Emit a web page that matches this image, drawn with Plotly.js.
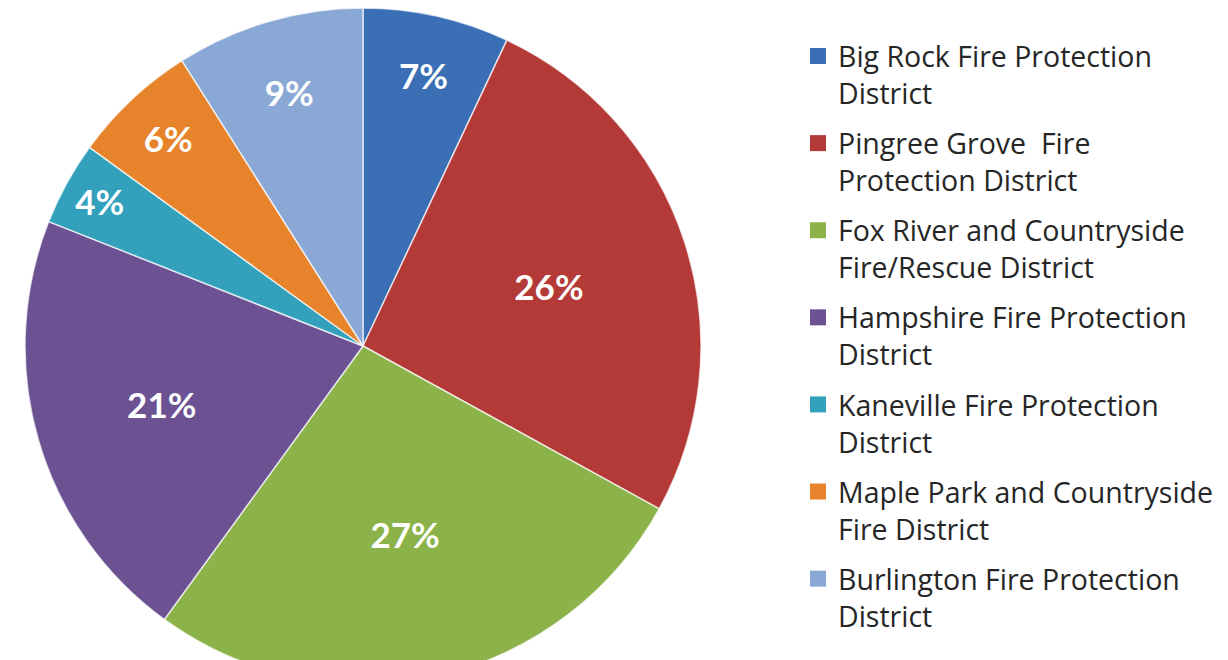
<!DOCTYPE html>
<html>
<head>
<meta charset="utf-8">
<script src="https://cdn.plot.ly/plotly-3.0.1.min.js"></script>
<style>html,body{margin:0;padding:0;overflow:hidden;background:#fff;}#chart{width:1228px;height:684px;}</style>
</head>
<body>
<div id="chart"></div>
<script>
const districts = [
  "Big Rock Fire Protection<br>District",
  "Pingree Grove  Fire<br>Protection District",
  "Fox River and Countryside<br>Fire/Rescue District",
  "Hampshire Fire Protection<br>District",
  "Kaneville Fire Protection<br>District",
  "Maple Park and Countryside<br>Fire District",
  "Burlington Fire Protection<br>District"
];
const shares = [7, 26, 27, 21, 4, 6, 9];
const sliceColors = ["#3a6fb6", "#b43a37", "#8cb34a", "#6c5193", "#33a1bb", "#e6832b", "#8aa8d5"];

const W = 1228, H = 684, T = 8;
const R = (H - T) / 2;
const cx = 363;

const pie = {
  type: "pie",
  values: shares,
  labels: districts,
  sort: false,
  direction: "clockwise",
  rotation: 0,
  showlegend: false,
  textinfo: "percent",
  texttemplate: "%{percent:.0%}",
  textposition: "inside",
  insidetextorientation: "horizontal",
  textfont: {family: "Lato, 'Open Sans', sans-serif", size: 35, color: "#ffffff", weight: "bold"},
  marker: {colors: sliceColors, line: {color: "rgba(255,255,255,0.7)", width: 1.5}},
  domain: {x: [(cx - R) / W, (cx + R) / W], y: [0, 1]},
  hoverinfo: "none"
};

const legendTraces = districts.map((name, i) => ({
  type: "scatter",
  mode: "markers",
  x: [null], y: [null],
  name: name,
  legendgroup: "g" + i,
  marker: {symbol: "square", size: 16, color: sliceColors[i], line: {width: 0}},
  hoverinfo: "none"
}));

const layout = {
  width: W, height: H,
  margin: {l: 0, r: 0, t: T, b: 0},
  paper_bgcolor: "#ffffff",
  plot_bgcolor: "#ffffff",
  xaxis: {visible: false},
  yaxis: {visible: false},
  hovermode: false,
  uniformtext: {mode: "show", minsize: 35},
  showlegend: true,
  legend: {
    x: 798 / W, xanchor: "left",
    y: (H - 31) / (H - T), yanchor: "top",
    valign: "top",
    tracegroupgap: 10,
    font: {family: "'Open Sans', Lato, sans-serif", size: 28.5, color: "#262626"},
    bgcolor: "rgba(0,0,0,0)"
  }
};

Plotly.newPlot("chart", [pie, ...legendTraces], layout, {displayModeBar: false, staticPlot: true});
</script>
</body>
</html>
